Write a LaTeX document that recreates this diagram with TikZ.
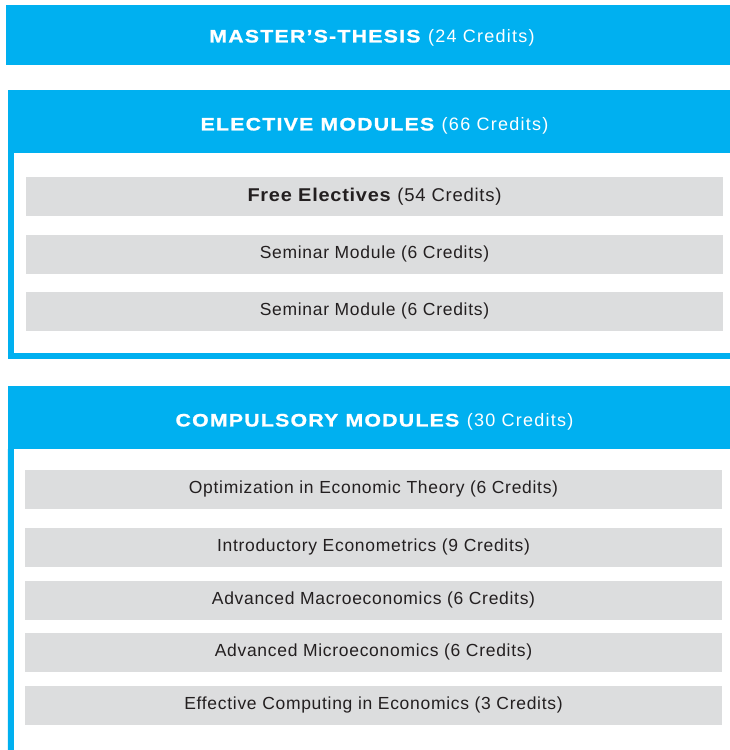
\documentclass[tikz,border=0pt]{standalone}
\usepackage{fontspec}
\setmainfont{Liberation Sans}[LetterSpace=4,BoldFeatures={FakeStretch=1.08}]
\newfontfamily\headfont{Liberation Sans}[LetterSpace=7,BoldFeatures={FakeStretch=1.18,FakeBold=1.2}]
\usetikzlibrary{positioning}
\definecolor{modblue}{RGB}{0,176,240}
\definecolor{modgray}{RGB}{220,221,222}
\definecolor{modtext}{RGB}{35,31,32}

\begin{document}
\begin{tikzpicture}[x=1pt, y=-1pt,
    bar/.style={fill=modblue, text=white, minimum width=733pt, minimum height=63pt, inner sep=0pt, text height=22pt, text depth=4.1pt, font=\headfont\fontsize{18}{20}\selectfont},
    course/.style={fill=modgray, text=modtext, minimum width=697pt, minimum height=39pt, inner sep=0pt, text height=11pt, text depth=4pt, font=\fontsize{17.5}{20}\selectfont},
    frame/.style={draw=modblue, line width=6pt}
]
\useasboundingbox (0,0) rectangle (730,750);

% thesis
\node[bar, minimum width=732pt, minimum height=60pt, text height=19pt] (thesis) at (372,35) {\textbf{MASTER’S-THESIS} (24 Credits)};

% elective block
\node[bar] (elective) at (374.5,121.5) {\textbf{ELECTIVE MODULES} (66 Credits)};
\coordinate (elecend) at (741,355.5);
\draw[frame] ([xshift=3pt]elective.south west) |- (elecend);

\node[course, text height=14pt, font=\fontsize{18.5}{20}\selectfont] (free) at (374.5,196.5) {\textbf{Free Electives} (54 Credits)};
\node[course] (sem1) at (374.5,254.5) {Seminar Module (6 Credits)};
\node[course] (sem2) at (374.5,311.5) {Seminar Module (6 Credits)};

% compulsory block
\node[bar] (compulsory) at (374.5,417.5) {\textbf{COMPULSORY MODULES} (30 Credits)};
\coordinate (compend) at (11,760);
\draw[frame] ([xshift=3pt]compulsory.south west) -- (compend);

\node[course] (optim) at (373.5,489.5) {Optimization in Economic Theory (6 Credits)};
\node[course] (econom) at (373.5,547.5) {Introductory Econometrics (9 Credits)};
\node[course] (macro) at (373.5,600.5) {Advanced Macroeconomics (6 Credits)};
\node[course] (micro) at (373.5,652.5) {Advanced Microeconomics (6 Credits)};
\node[course] (comput) at (373.5,705.5) {Effective Computing in Economics (3 Credits)};
\end{tikzpicture}
\end{document}
